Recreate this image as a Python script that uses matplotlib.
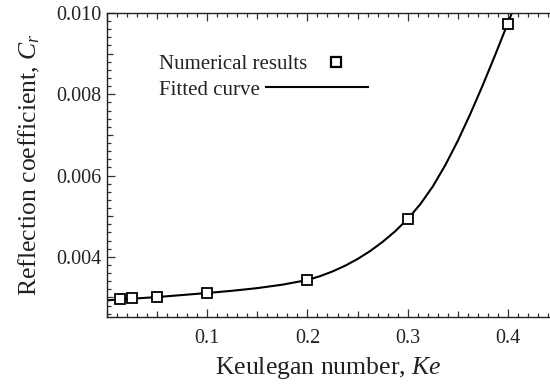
import matplotlib
matplotlib.use("Agg")
import matplotlib.pyplot as plt
from matplotlib.ticker import MultipleLocator, FuncFormatter
from matplotlib.lines import Line2D

plt.rcParams['font.family'] = ['Liberation Serif', 'DejaVu Serif']
plt.rcParams['mathtext.fontset'] = 'custom'
plt.rcParams['mathtext.rm'] = 'Liberation Serif'
plt.rcParams['mathtext.it'] = 'Liberation Serif:italic'

# numerical results
ke_num = [0.0125, 0.025, 0.05, 0.1, 0.2, 0.3, 0.4]
cr_num = [0.00296, 0.00298, 0.00301, 0.00312, 0.00342, 0.00492, 0.00973]

# fitted curve
ke_fit = [0.0, 0.025, 0.05, 0.075, 0.1, 0.125, 0.15, 0.175, 0.2,
          0.2125, 0.225, 0.2375, 0.25, 0.2625, 0.275, 0.2875, 0.3,
          0.3125, 0.325, 0.3375, 0.35, 0.3625, 0.375, 0.3875, 0.4, 0.405]
cr_fit = [0.00293, 0.00297, 0.00301, 0.00306, 0.00311, 0.003165, 0.00323,
          0.003315, 0.00343, 0.003524, 0.00364, 0.00378, 0.003946,
          0.004141, 0.004368, 0.004629, 0.004929, 0.005292, 0.005729,
          0.006254, 0.006854, 0.007517, 0.008229, 0.008979, 0.009754,
          0.010064]

fig = plt.figure(figsize=(5.5, 3.91), dpi=100)
ax = fig.add_axes([0.1945, 0.1893, 0.8055, 0.7775])

ax.plot(ke_fit, cr_fit, color='black', lw=1.5, zorder=2)
ax.plot(ke_num, cr_num, ls='none', marker='s', ms=6.5, mfc='white',
        mec='black', mew=1.3, zorder=3, clip_on=False)

ax.set_xlim(0, 0.442)
ax.set_ylim(0.00252, 0.010)

# ticks: labelled majors, medium unlabelled, short minors
ax.xaxis.set_major_locator(MultipleLocator(0.05))
ax.xaxis.set_minor_locator(MultipleLocator(0.01))
ax.yaxis.set_major_locator(MultipleLocator(0.001))
ax.yaxis.set_minor_locator(MultipleLocator(0.0002))

def xfmt(v, pos):
    k = round(v / 0.05)
    if k % 2 == 0 and k > 0:
        return '%.1f' % v
    return ''

def yfmt(v, pos):
    k = round(v / 0.001)
    if k % 2 == 0:
        return '%.3f' % v
    return ''

ax.xaxis.set_major_formatter(FuncFormatter(xfmt))
ax.yaxis.set_major_formatter(FuncFormatter(yfmt))

ax.tick_params(which='both', direction='in', top=True, right=False,
               labelsize=14.5, width=0.9, color='#333333',
               labelcolor='#222222')
ax.tick_params(axis='x', which='major', length=6, pad=9)
ax.tick_params(axis='y', which='major', length=6, pad=4)
ax.tick_params(which='minor', length=3)

fig.canvas.draw()
for t in ax.xaxis.get_major_ticks():
    if round(t.get_loc() / 0.05) % 2 == 1:
        t.tick1line.set_markersize(4.5)
        t.tick2line.set_markersize(4.5)
for t in ax.yaxis.get_major_ticks():
    if round(t.get_loc() / 0.001) % 2 == 1:
        t.tick1line.set_markersize(4.5)
        t.tick2line.set_markersize(4.5)

for s in ('left', 'bottom', 'top'):
    ax.spines[s].set_linewidth(1.0)
    ax.spines[s].set_color('#222222')
ax.spines['right'].set_visible(False)

ax.set_xlabel('Keulegan number, $\\mathit{Ke}$', fontsize=18.5, labelpad=5,
              color='#222222')
ax.set_ylabel('Reflection coefficient, $\\mathit{C_r}$', fontsize=18.5,
              labelpad=10, color='#222222')

# legend: text left, sample right
h1 = Line2D([], [], ls='none', marker='s', ms=6.5, mfc='white',
            mec='black', mew=1.6)
h2 = Line2D([], [], color='black', lw=1.5)
leg1 = ax.legend([h1], ['Numerical results'], markerfirst=False,
                 frameon=False, loc='upper left', fontsize=15,
                 bbox_to_anchor=(0.117, 0.864), borderpad=0, borderaxespad=0,
                 handlelength=1.2, handletextpad=0.8, labelcolor='#222222')
ax.add_artist(leg1)
ax.legend([h2], ['Fitted curve'], markerfirst=False, frameon=False,
          loc='upper left', fontsize=15, bbox_to_anchor=(0.117, 0.779),
          borderpad=0, borderaxespad=0, handlelength=4.9, handletextpad=0.3,
          labelcolor='#222222')

fig.savefig('out.png', dpi=100)
